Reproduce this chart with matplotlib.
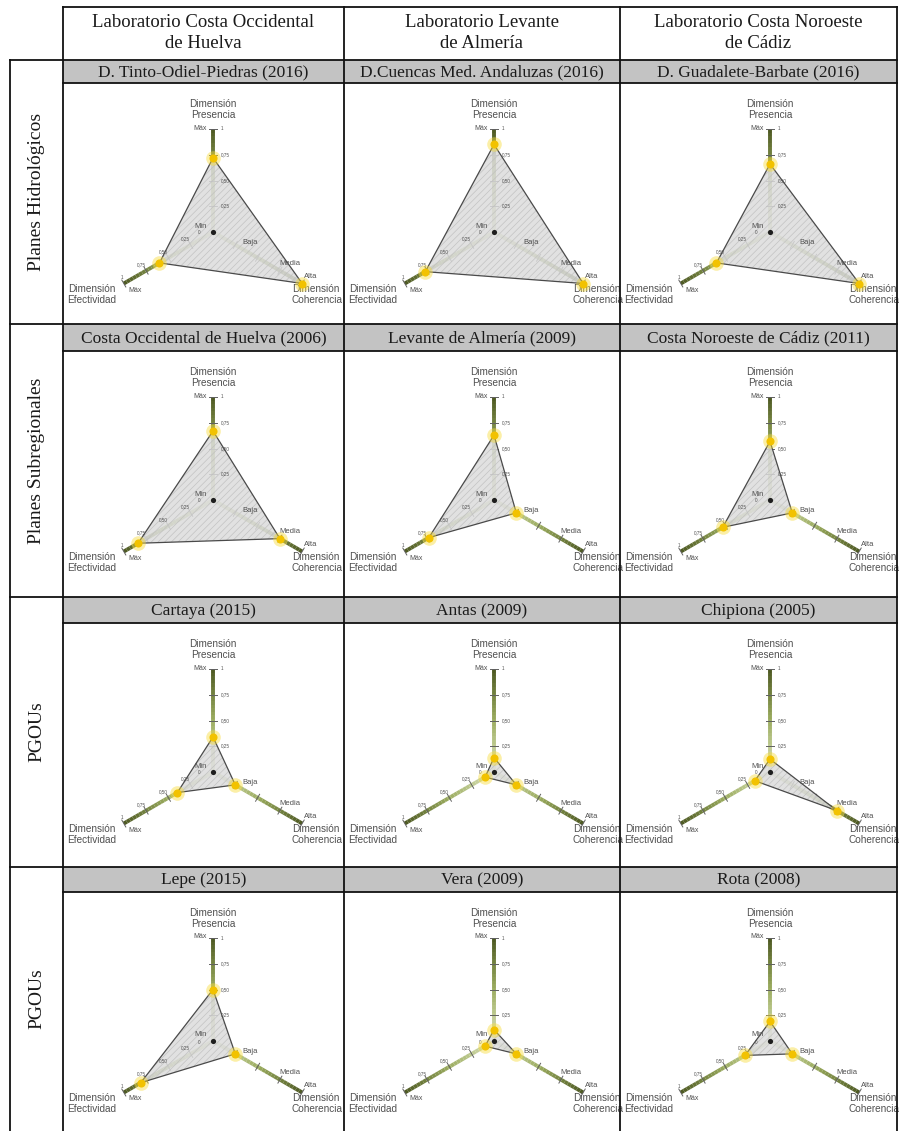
import numpy as np
import matplotlib
matplotlib.use("Agg")
import matplotlib.pyplot as plt
from matplotlib.patches import Polygon, Rectangle
from matplotlib.collections import LineCollection
from matplotlib.colors import LinearSegmentedColormap

# --- data -------------------------------------------------------------
lab_titles = ["Laboratorio Costa Occidental\nde Huelva",
              "Laboratorio Levante\nde Almería",
              "Laboratorio Costa Noroeste\nde Cádiz"]
row_labels = ["Planes Hidrológicos", "Planes Subregionales", "PGOUs", "PGOUs"]
plan_names = [
    ["D. Tinto-Odiel-Piedras (2016)", "D.Cuencas Med. Andaluzas (2016)", "D. Guadalete-Barbate (2016)"],
    ["Costa Occidental de Huelva (2006)", "Levante de Almería (2009)", "Costa Noroeste de Cádiz (2011)"],
    ["Cartaya (2015)", "Antas (2009)", "Chipiona (2005)"],
    ["Lepe (2015)", "Vera (2009)", "Rota (2008)"],
]
presencia = [[0.72, 0.85, 0.66],
             [0.67, 0.63, 0.57],
             [0.34, 0.14, 0.125],
             [0.50, 0.11, 0.19]]
efectividad = [[0.60, 0.77, 0.60],
               [0.84, 0.73, 0.53],
               [0.40, 0.10, 0.17],
               [0.81, 0.10, 0.28]]
coherencia = [[1.0, 1.0, 1.0],
              [0.75, 0.25, 0.25],
              [0.25, 0.25, 0.75],
              [0.25, 0.25, 0.25]]
num_ticks = [0.25, 0.50, 0.75, 1.0]
num_tick_labels = ["0,25", "0,50", "0,75", "1"]
coh_labels = ["Baja", "Media", "Alta"]
coh_label_pos = [0.25, 0.75, 1.0]

# --- layout (pixels) --------------------------------------------------
W, H = 899, 1131
col_x = [63, 344, 620, 897]
row_top = [60, 324, 597, 867]
band_h = [23, 27, 26, 25]
L = 103  # axis length in px

SERIF = "Liberation Serif"
SANS = "Liberation Sans"
GRAY_TXT = "#505050"
plt.rcParams["hatch.linewidth"] = 0.5

fig = plt.figure(figsize=(W / 100, H / 100), dpi=100)
ax = fig.add_axes([0, 0, 1, 1])
ax.set_xlim(0, W)
ax.set_ylim(H, 0)
ax.axis("off")

axis_cmap = LinearSegmentedColormap.from_list("ax", ["#dde4bc", "#9aab5e", "#4a5620"])
dirs = {"P": np.array([0.0, -1.0]),
        "C": np.array([np.cos(np.radians(30)), 0.5]),
        "E": np.array([-np.cos(np.radians(30)), 0.5])}


def txt(x, y, s, size, ha="center", va="center", color=GRAY_TXT, **kw):
    ax.text(x, y, s, fontsize=size, ha=ha, va=va, color=color, family=SANS, **kw)


def draw_radar(cx, cy, p, e, c):
    c0 = np.array([cx, cy])
    # axes with gradient
    for k in ["P", "E", "C"]:
        d = dirs[k]
        t = np.linspace(0, 1, 30)
        pts = c0 + np.outer(t, d) * L
        segs = np.stack([pts[:-1], pts[1:]], axis=1)
        lc = LineCollection(segs, colors=axis_cmap(t[:-1]), linewidths=2.8,
                            capstyle="butt", zorder=1)
        ax.add_collection(lc)
        # tick marks
        perp = np.array([-d[1], d[0]])
        for v in num_ticks:
            q = c0 + d * v * L
            a, b = q - perp * 4, q + perp * 4
            ax.plot([a[0], b[0]], [a[1], b[1]], color="#606060", lw=0.7, zorder=1.5)
    vals = {"P": p, "E": e, "C": c}
    verts = np.array([c0 + dirs[k] * vals[k] * L for k in ["P", "C", "E"]])
    ax.add_patch(Polygon(verts, closed=True, facecolor="#dcdcdc", alpha=0.85,
                         edgecolor="#bdbdbd", lw=0, hatch="/////", zorder=2))
    ax.add_patch(Polygon(verts, closed=True, facecolor="none",
                         edgecolor="#4a4a4a", lw=0.9, zorder=3))
    ax.scatter(verts[:, 0], verts[:, 1], s=110, color="#f7dc3c", alpha=0.45,
               lw=0, zorder=4)
    ax.scatter(verts[:, 0], verts[:, 1], s=34, color="#f2c200", lw=0, zorder=4.5)
    ax.scatter([cx], [cy], s=14, color="#1e1e1e", lw=0, zorder=5)

    # labels: Presencia
    txt(cx, cy - 128, "Dimensión", 7.2)
    txt(cx, cy - 117, "Presencia", 7.2)
    txt(cx - 6, cy - 104, "Máx", 5, ha="right")
    for v, s in zip(num_ticks, num_tick_labels):
        txt(cx + 8, cy - v * L, s, 3.3, ha="left")
    txt(cx - 12, cy - 6, "Min", 5.5, ha="center")
    txt(cx - 14, cy + 1, "0", 3.3)
    # Efectividad
    for v, s in zip(num_ticks[:-1], num_tick_labels[:-1]):
        q = c0 + dirs["E"] * v * L
        txt(q[0] - 5, q[1] - 6, s, 3.3)
    q = c0 + dirs["E"] * L
    txt(q[0] - 2, q[1] - 6, "1", 3.3)
    txt(cx - 78, cy + 58, "Máx", 5)
    txt(cx - 121, cy + 57, "Dimensión", 7.2)
    txt(cx - 121, cy + 68, "Efectividad", 7.2)
    # Coherencia
    offs = [(15, -2), (10, -7), (8, -7)]
    for v, s, (ox, oy) in zip(coh_label_pos, coh_labels, offs):
        q = c0 + dirs["C"] * v * L
        txt(q[0] + ox, q[1] + oy, s, 5.5)
    txt(cx + 103, cy + 57, "Dimensión", 7.2)
    txt(cx + 104, cy + 68, "Coherencia", 7.2)


# --- table -------------------------------------------------------------
lw = 1.3
for i in range(4):
    top = row_top[i]
    bb = top + band_h[i]
    ax.add_patch(Rectangle((col_x[0], top), col_x[-1] - col_x[0], band_h[i],
                           facecolor="#c3c3c3", edgecolor="none", zorder=0))
    ax.plot([10, col_x[-1]], [top, top], color="#111", lw=lw, zorder=6)
    ax.plot([col_x[0], col_x[-1]], [bb, bb], color="#111", lw=lw, zorder=6)
    nxt = row_top[i + 1] if i < 3 else H
    ax.text(37, (top + nxt) / 2, row_labels[i], rotation=90, fontsize=14,
            ha="center", va="center", family=SERIF, color="#1a1a1a")
    for j in range(3):
        xm = (col_x[j] + col_x[j + 1]) / 2
        ax.text(xm, top + band_h[i] / 2 + 1, plan_names[i][j], fontsize=12.5,
                ha="center", va="center", family=SERIF, color="#1a1a1a")
        draw_radar(col_x[j] + 150, bb + 149,
                   presencia[i][j], efectividad[i][j], coherencia[i][j])

ax.plot([col_x[0], col_x[-1]], [7, 7], color="#111", lw=lw, zorder=6)
for x in col_x:
    ax.plot([x, x], [7, H], color="#111", lw=lw, zorder=6)
ax.plot([10, 10], [60, H], color="#111", lw=lw, zorder=6)
for j in range(3):
    xm = (col_x[j] + col_x[j + 1]) / 2
    ax.text(xm, 33, lab_titles[j], fontsize=13.5, ha="center", va="center",
            family=SERIF, color="#1a1a1a", linespacing=1.3)

fig.savefig("out.png", dpi=100)
